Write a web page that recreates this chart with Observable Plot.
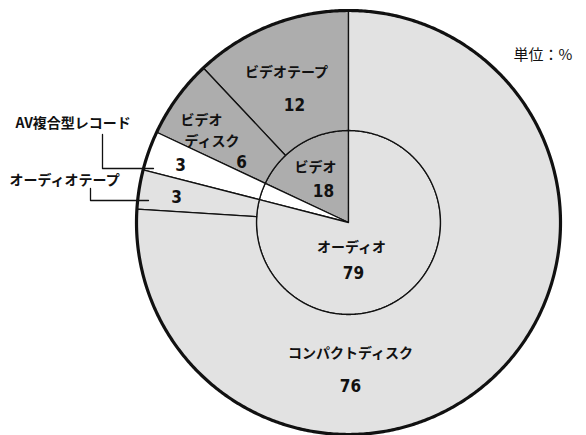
<!DOCTYPE html>
<html><head><meta charset="utf-8">
<script src="https://cdn.jsdelivr.net/npm/d3@7"></script>
<script src="https://cdn.jsdelivr.net/npm/@observablehq/plot@0.6"></script>
<style>html,body{margin:0;padding:0;background:#fff} #chart svg{display:block}</style>
</head><body><div id="chart"></div>
<script>
// ---- data ----
const outerNames = ["ビデオテープ", "ビデオディスク", "AV複合型レコード", "オーディオテープ", "コンパクトディスク"];
const outerValues = [12, 6, 3, 3, 76];
const outerGroups = ["ビデオ", "ビデオ", "AV", "オーディオ", "オーディオ"];
const innerNames = ["ビデオ", "AV複合型レコード", "オーディオ"];
const innerValues = [18, 3, 79];
const innerGroups = ["ビデオ", "AV", "オーディオ"];
const groupDomain = ["ビデオ", "AV", "オーディオ"];
const unitLabel = "単位：%";

// ---- layout ----
const W = 586, H = 435, CX = 348, CY = 222, RPX = 212;
const R_OUT = 1, R_IN = 92 / RPX;
const STEP = Math.PI / 360;
const P = (px, py) => ({x: (px - CX) / RPX, y: (CY - py) / RPX});

function arcPts(r, a0, a1) {
  const n = Math.max(2, Math.ceil(Math.abs(a1 - a0) / STEP) + 1);
  return d3.range(n).map(i => {
    const a = a0 + (a1 - a0) * i / (n - 1);
    return [r * Math.sin(a), r * Math.cos(a)];
  });
}
function sector(id, group, a0, a1, r0, r1) {
  const outer = arcPts(r1, a0, a1);
  const inner = r0 > 0 ? arcPts(r0, a1, a0) : [[0, 0]];
  return [...outer, ...inner].map(([x, y]) => ({id, group, x, y}));
}
const pie = d3.pie().sort(null).startAngle(0).endAngle(-2 * Math.PI);
const outerArcs = pie(outerValues);
const innerArcs = pie(innerValues);
const slices = [
  ...innerArcs.flatMap((d, i) => sector("in" + i, innerGroups[i], d.startAngle, d.endAngle, 0, R_IN)),
  ...outerArcs.flatMap((d, i) => sector("out" + i, outerGroups[i], d.startAngle, d.endAngle, R_IN, R_OUT))
];
const rim = arcPts(R_OUT, 0, 2 * Math.PI).map(([x, y]) => ({x, y}));

// the "ビデオディスク" label is wrapped onto two lines in the reference
const discLines = [outerNames[1].slice(0, 3), outerNames[1].slice(3)];

const namesMid = [
  {text: outerNames[0], ...P(286, 72)},
  {text: innerNames[0], ...P(315, 167)},
  {text: innerNames[2], ...P(351, 247)},
  {text: outerNames[4], ...P(350, 353)}
];
const namesStart = [
  {text: discLines[0], ...P(180, 120)},
  {text: discLines[1], ...P(184, 141)},
  {text: outerNames[2], ...P(15, 123)},
  {text: outerNames[3], ...P(9, 180)}
];
const values = [
  {text: String(outerValues[0]), ...P(294, 105)},
  {text: String(outerValues[1]), ...P(241, 162)},
  {text: String(outerValues[2]), ...P(180, 165)},
  {text: String(outerValues[3]), ...P(176, 197)},
  {text: String(innerValues[0]), ...P(323, 191)},
  {text: String(innerValues[2]), ...P(353, 273)},
  {text: String(outerValues[4]), ...P(350, 386)}
];
const leaders = [
  ...[P(102, 134), P(102, 168), P(153, 168)].map(p => ({id: "av", ...p})),
  ...[P(90, 188), P(90, 200), P(148, 200)].map(p => ({id: "tape", ...p}))
];

const nameStyle = {x: "x", y: "y", text: "text", fontSize: 14, fontWeight: "bold", fill: "#111"};

const chart = Plot.plot({
  width: W, height: H,
  margin: 0,
  x: {domain: [-CX / RPX, (W - CX) / RPX], axis: null},
  y: {domain: [-(H - CY) / RPX, CY / RPX], axis: null},
  color: {domain: groupDomain, range: ["#adadad", "#ffffff", "#e2e2e2"]},
  style: {fontFamily: "'Noto Sans CJK JP', sans-serif", background: "#fff", color: "#111"},
  marks: [
    Plot.line(slices, {x: "x", y: "y", z: "id", fill: "group", stroke: "#111", strokeWidth: 1.3, curve: "linear-closed"}),
    Plot.line(rim, {x: "x", y: "y", stroke: "#111", strokeWidth: 3.2, curve: "linear-closed"}),
    Plot.line(leaders, {x: "x", y: "y", z: "id", stroke: "#111", strokeWidth: 1.3}),
    Plot.text(namesMid, {...nameStyle, textAnchor: "middle"}),
    Plot.text(namesStart, {...nameStyle, textAnchor: "start"}),
    Plot.text([{text: unitLabel, ...P(513, 55)}], {x: "x", y: "y", text: "text", textAnchor: "start", fontSize: 15, fontWeight: 400, fill: "#111"}),
    Plot.text(values, {x: "x", y: "y", text: "text", fontSize: 17, fontWeight: "bold", fill: "#111",
      fontFamily: "'Liberation Sans Narrow', 'DejaVu Sans Condensed', 'Liberation Sans', sans-serif"})
  ]
});
document.getElementById("chart").append(chart);
</script>
</body></html>
